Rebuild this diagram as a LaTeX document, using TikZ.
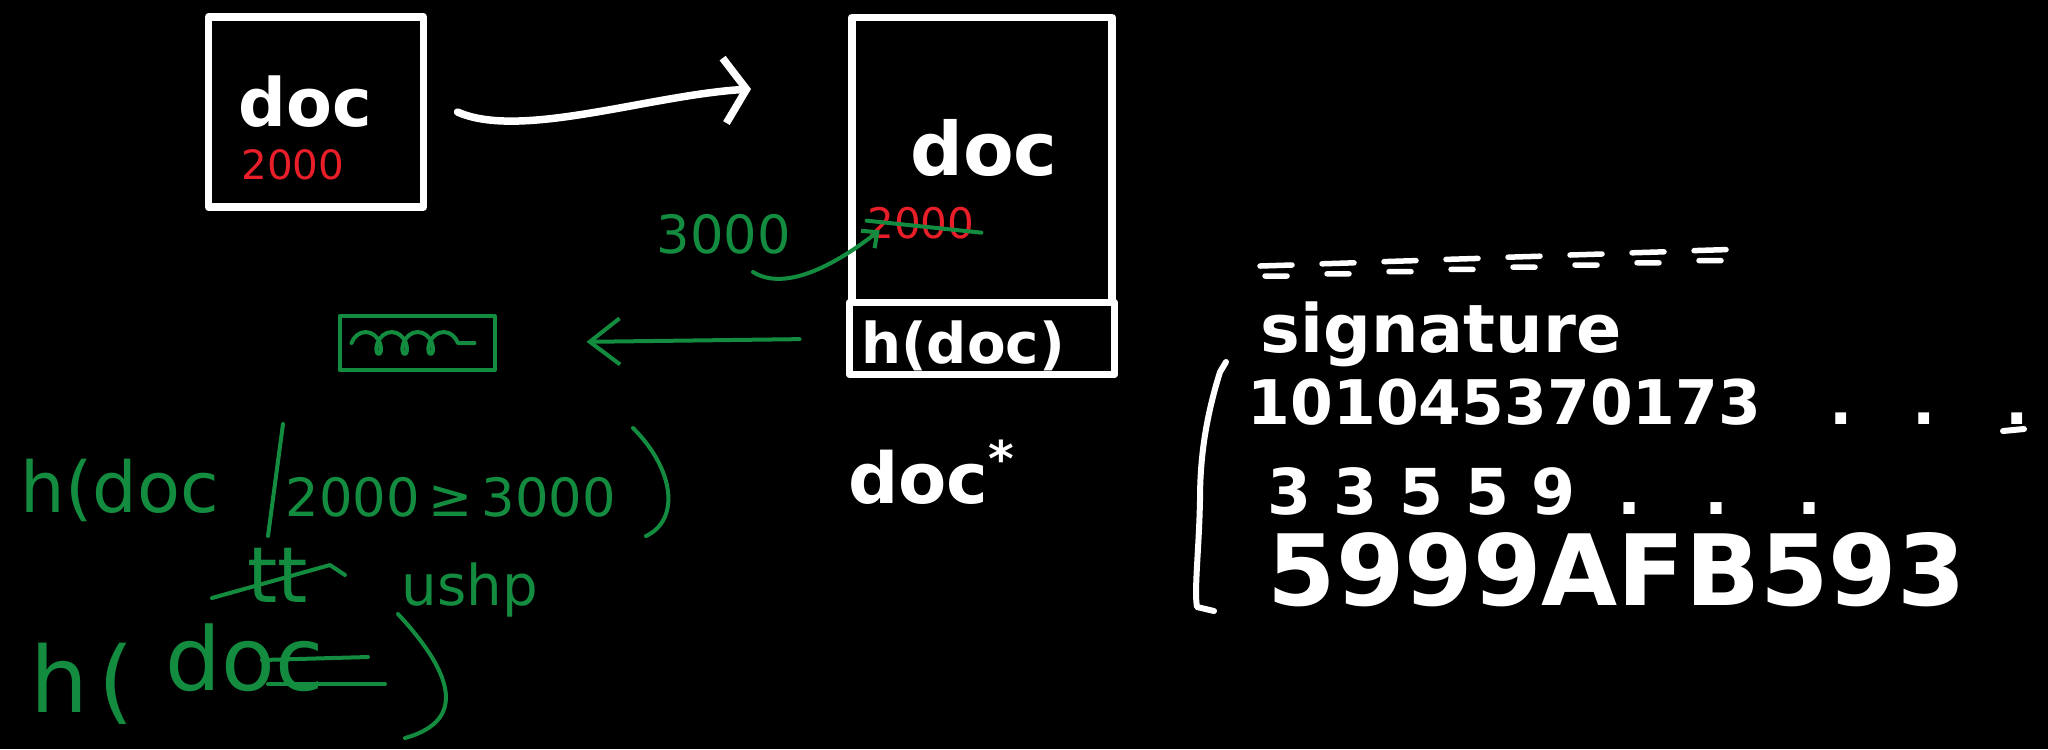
\documentclass[tikz,border=0pt]{standalone}
\usepackage{fontspec}
\setmainfont{DejaVu Sans}
\usetikzlibrary{arrows.meta,positioning,decorations.pathmorphing}

\definecolor{penred}{RGB}{232,30,40}
\definecolor{pengreen}{RGB}{20,140,64}

\begin{document}
\begin{tikzpicture}[x=0.1mm, y=-0.1mm,
    chalk/.style={draw=white, line width=0.75mm, line cap=round, line join=round},
    ink/.style={draw=pengreen, line width=0.4mm, line cap=round, line join=round},
    sheet/.style={chalk, rectangle, inner sep=0pt, outer sep=0pt},
    wtxt/.style={text=white, inner sep=0pt, anchor=base, font=\bfseries\fontsize{#1}{#1}\selectfont},
    gtxt/.style={text=pengreen, inner sep=0pt, anchor=base, font=\fontsize{#1}{#1}\selectfont},
    rtxt/.style={text=penred, inner sep=0pt, anchor=base, font=\fontsize{#1}{#1}\selectfont}]

    % Background
    \fill[black] (0,0) rectangle (2048,749);

    % Original document
    \node[sheet, minimum width=21.5mm, minimum height=19mm] (olddoc) at (316,112) {};
    \node[wtxt=19] (olddoctxt) at (305,126) {doc};
    \node[rtxt=11.5] (olddate) at (293,179) {2000};

    % Forged copy with its hash field
    \node[sheet, minimum width=26mm, minimum height=28.5mm] (newdoc) at (982,160) {};
    \node[sheet, minimum width=26.5mm, minimum height=7.2mm, below=0pt of newdoc] (hashbox) {};
    \node[wtxt=21] (newdoctxt) at (984,175) {doc};
    \node[wtxt=16] (hashtxt) at (963,363) {h(doc)};

    % Copy arrow
    \draw[chalk, -{Straight Barb[length=2.2mm, width=6.5mm]}]
        ([xshift=3.4mm]olddoc.east) .. controls (520,140) and (650,95) .. ([xshift=-10.1mm, yshift=7.1mm]newdoc.west);

    % Changed value
    \node[rtxt=12] (oldval) at (921,238) {2000};
    \node[gtxt=15] (newval) at (724,253) {3000};
    \coordinate (tail) at (753,272);
    \draw[ink] ([yshift=0.2mm]oldval.west) -- ([xshift=0.6mm, yshift=-1mm]oldval.east);
    \draw[ink, -{Straight Barb[length=1.2mm, width=2.2mm]}]
        (tail) .. controls (785,292) and (835,265) .. ([xshift=1.3mm, yshift=0.9mm]oldval.south west);

    \node[wtxt=20] (docstar) at (932,503) {doc\textsuperscript{*}};

    % Encrypted hash
    \node[ink, rectangle, minimum width=15.5mm, minimum height=5.4mm, inner sep=0pt, outer sep=0pt] (encbox) at (417,343) {};
    \draw[ink, decorate, decoration={coil, aspect=0.7, segment length=2.6mm, amplitude=1.1mm}]
        ([xshift=1.2mm]encbox.west) -- ([xshift=-2mm]encbox.east);
    \draw[ink, -{Straight Barb[length=3mm, width=4.6mm]}, shorten <=5mm, shorten >=9.2mm] (hashbox.west) -- (encbox.east);

    % Hash equations
    \node[gtxt=20, anchor=base west] (hquery) at (20,512) {h(doc};
    \draw[ink] (283,424) -- (268,536);
    \node[gtxt=15, anchor=base west] (cond) at (285,516) {2000\,≥\,3000};
    \draw[ink] (633,428) .. controls (675,470) and (680,520) .. (646,536);

    \node[gtxt=22] (tt) at (278,602) {tt};
    \draw[ink] (212,598) -- (330,565) -- (345,575);
    \node[gtxt=16] (ushp) at (470,605) {ushp};

    \node[gtxt=26, anchor=base west] (hfinal) at (30,712) {h\hspace{1mm}(};
    \node[gtxt=25, anchor=base west] (scrib) at (165,690) {doc};
    \draw[ink] (262,660) -- (368,657);
    \draw[ink] (268,684) -- (385,684);
    \draw[ink] (398,614) .. controls (450,670) and (470,720) .. (405,738);

    % Signature block
    \foreach \i [evaluate=\i as \cx using 1276+62*\i, evaluate=\i as \cy using 273-2.2*\i] in {0,...,7}
        \draw[chalk, line width=0.55mm] (\cx,\cy) ++(-16,-7) -- ++(32,-1) (\cx,\cy) ++(-11,3) -- ++(22,0);

    \node[wtxt=19, anchor=base west] (sigword) at (1260,352) {signature};
    \draw[chalk, line width=0.6mm] (1226,362) -- (1220,372) .. controls (1205,420) and (1200,460) .. (1200,500)
        .. controls (1199,550) and (1194,590) .. (1197,607) -- (1214,611);
    \node[wtxt=17.5, anchor=base west] (sigrowa) at (1247,424) {101045370173\hspace{6.8mm}.\hspace{6mm}.\hspace{6.9mm}.};
    \draw[chalk, line width=0.6mm] (2003,431) -- (2024,429);
    \node[wtxt=18, anchor=base west] (sigrowb) at (1267,514) {3 3 5 5 9\hspace{4.2mm}.\hspace{6.3mm}.\hspace{6.8mm}.};
    \node[wtxt=28, anchor=base west] (sigrowc) at (1267,605) {5999AFB593};
\end{tikzpicture}
\end{document}
